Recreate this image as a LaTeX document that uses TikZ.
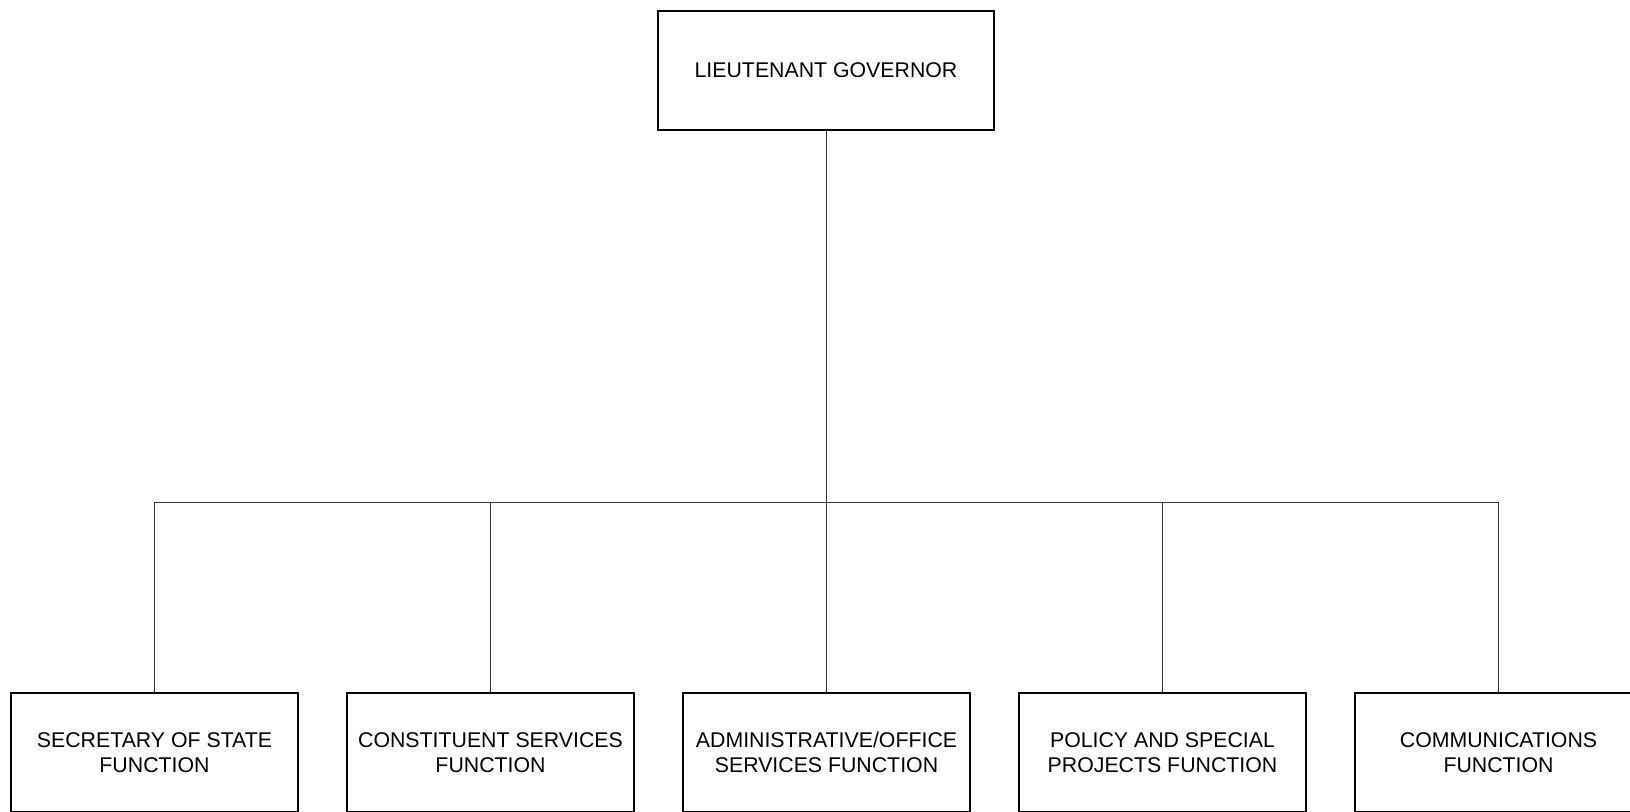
\documentclass[tikz,border=0pt]{standalone}
\usepackage{fontspec}
\setmainfont{Liberation Sans}
\begin{document}
\begin{tikzpicture}[x=1pt,y=-1pt,
  box/.style={draw=black,line width=1.6pt,fill=white,minimum width=287pt,minimum height=119pt,inner sep=0pt,align=center,font=\fontsize{21.3}{25}\selectfont},
  topbox/.style={box,minimum width=336pt},
  conn/.style={draw=black!80,line width=1pt}]
\useasboundingbox (0,0) rectangle (1630,811);
\clip (0,0) rectangle (1630,811);
\node[topbox] (lg) at (826,70.5) {LIEUTENANT GOVERNOR};
\coordinate (bus) at (826,502);
\node[box] (s1) at (154.5,752.5) {SECRETARY OF STATE\\FUNCTION};
\node[box] (s2) at (490.5,752.5) {CONSTITUENT SERVICES\\FUNCTION};
\node[box] (s3) at (826.5,752.5) {ADMINISTRATIVE/OFFICE\\SERVICES FUNCTION};
\node[box] (s4) at (1162.5,752.5) {POLICY AND SPECIAL\\PROJECTS FUNCTION};
\node[box] (s5) at (1498.5,752.5) {COMMUNICATIONS\\FUNCTION};
\draw[conn] (lg.south) -- (bus);
\draw[conn] (s1.north) |- (bus);
\draw[conn] (s5.north) |- (bus);
\draw[conn] (s2.north) -- (s2.north |- bus);
\draw[conn] (s3.north) -- (s3.north |- bus);
\draw[conn] (s4.north) -- (s4.north |- bus);
\end{tikzpicture}
\end{document}
